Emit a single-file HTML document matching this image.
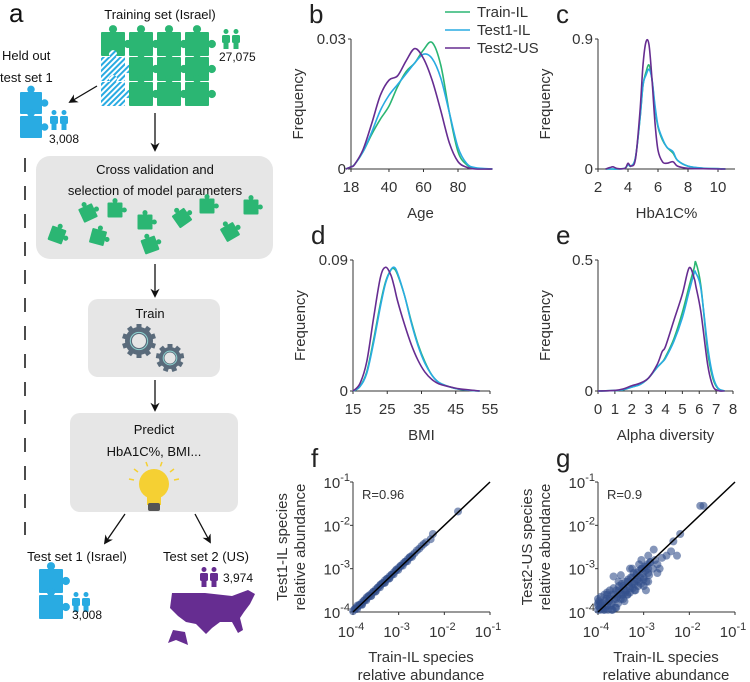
<!DOCTYPE html>
<html><head><meta charset="utf-8">
<style>
html,body{margin:0;padding:0;background:#fff;}
svg{display:block;font-family:"Liberation Sans","DejaVu Sans",sans-serif;}
</style></head>
<body>
<svg id="fig" width="750" height="682" viewBox="0 0 750 682" xmlns="http://www.w3.org/2000/svg">
<defs>
<pattern id="hatch" width="4" height="4" patternUnits="userSpaceOnUse" patternTransform="rotate(45)">
<rect width="4" height="4" fill="#fff"/><rect width="2" height="4" fill="#29abe2"/></pattern>
<marker id="arr" viewBox="0 0 10 10" refX="8" refY="5" markerWidth="7" markerHeight="7" orient="auto"><path d="M0,0 L10,5 L0,10 L3,5 z" fill="#111"/></marker>
</defs>
<g id="panelA"></g>
<g id="charts"></g>
</svg>
<script>
// ---------- Data ----------
const ageX=[15,18,20,25,30,35,40,45,50,55,60,65,70,75,80,85,90,100];
const ageTrain=[0,0.0005,0.001,0.004,0.008,0.0115,0.0145,0.019,0.0225,0.0245,0.0275,0.0292,0.024,0.013,0.004,0.001,0.0002,0];
const ageTest1=[0,0.0005,0.001,0.004,0.0085,0.0135,0.017,0.0195,0.022,0.0245,0.0265,0.0255,0.021,0.013,0.005,0.0013,0.0003,0];
const ageTest2=[0,0.0005,0.001,0.0045,0.0105,0.017,0.0205,0.0215,0.025,0.0278,0.0255,0.0205,0.0135,0.006,0.0017,0.0004,0,0];

const hbX=[2.5,2.8,3.0,3.3,3.8,4.0,4.2,4.5,4.8,5.0,5.2,5.4,5.6,5.8,6.0,6.3,6.6,7.0,7.3,8.0,9.0,10.0,10.5];
const hbTrain=[0,0,0,0,0.005,0.03,0.02,0.08,0.35,0.58,0.67,0.72,0.62,0.42,0.29,0.2,0.15,0.11,0.06,0.02,0.005,0.002,0];
const hbTest1=[0,0,0,0,0.005,0.03,0.02,0.08,0.35,0.58,0.65,0.69,0.62,0.44,0.3,0.21,0.15,0.12,0.06,0.02,0.006,0.002,0];
const hbTest2=[0,0.01,0.015,0.003,0.005,0.04,0.02,0.07,0.4,0.72,0.88,0.86,0.62,0.32,0.13,0.05,0.04,0.05,0.02,0.005,0.002,0,0];

const bmiX=[15,17,19,21,23,24.5,26,27,28,30,32,34,36,38,40,43,46,50,52];
const bmiTrain=[0,0.003,0.013,0.035,0.06,0.075,0.083,0.084,0.08,0.066,0.048,0.032,0.02,0.011,0.006,0.003,0.0012,0.0003,0];
const bmiTest1=[0,0.003,0.012,0.033,0.058,0.074,0.083,0.085,0.081,0.066,0.047,0.031,0.019,0.011,0.006,0.003,0.0012,0.0003,0];
const bmiTest2=[0,0.005,0.02,0.05,0.078,0.085,0.08,0.072,0.062,0.046,0.032,0.021,0.013,0.008,0.005,0.003,0.0015,0.0005,0];

const alphaX=[0,1,1.5,2,2.5,3,3.5,3.8,4,4.5,5,5.4,5.7,5.8,6.1,6.5,6.8,7.1,7.5];
const alphaTrain=[0,0.002,0.005,0.015,0.025,0.05,0.09,0.11,0.13,0.2,0.3,0.4,0.47,0.49,0.4,0.15,0.05,0.01,0];
const alphaTest1=[0,0.002,0.005,0.015,0.025,0.05,0.09,0.11,0.125,0.19,0.28,0.38,0.45,0.45,0.39,0.17,0.06,0.012,0];
const alphaTest2=[0,0.002,0.008,0.02,0.03,0.05,0.1,0.15,0.17,0.27,0.37,0.47,0.43,0.4,0.3,0.1,0.02,0.002,0];

const seriesNames=["Train-IL","Test1-IL","Test2-US"];
const seriesColors=["#2bb673","#29abe2","#662d91"];

// scatter f (log10 values)
const fX=[-4,-3.95,-3.9,-3.85,-3.8,-3.75,-3.7,-3.65,-3.6,-3.55,-3.5,-3.45,-3.4,-3.35,-3.3,-3.25,-3.2,-3.15,-3.1,-3.05,-3.0,-2.95,-2.9,-2.85,-2.8,-2.75,-2.7,-2.65,-2.6,-2.55,-2.5,-2.45,-2.4,-2.3,-2.25,-1.7,-3.9,-3.8,-3.7,-3.6,-3.5,-3.4,-3.3,-3.2,
 -3.97,-3.91,-3.86,-3.81,-3.76,-3.71,-3.66,-3.61,-3.56,-3.51,-3.46,-3.41,-3.36,-3.31,-3.26,-3.21,-3.16,-3.11,-3.06,-3.01,-2.96,-2.91,-2.86,-2.81,-2.76,-2.71];
const fY=[-3.98,-3.92,-3.88,-3.83,-3.78,-3.73,-3.69,-3.62,-3.58,-3.53,-3.48,-3.43,-3.38,-3.33,-3.27,-3.23,-3.18,-3.14,-3.08,-3.02,-2.98,-2.93,-2.88,-2.84,-2.78,-2.73,-2.69,-2.64,-2.58,-2.54,-2.48,-2.43,-2.39,-2.32,-2.2,-1.68,-3.85,-3.83,-3.66,-3.63,-3.52,-3.37,-3.32,-3.22,
 -3.94,-3.93,-3.84,-3.83,-3.74,-3.73,-3.64,-3.63,-3.54,-3.53,-3.44,-3.43,-3.34,-3.33,-3.24,-3.23,-3.14,-3.13,-3.04,-3.03,-2.94,-2.93,-2.84,-2.83,-2.74,-2.73];
// scatter g
const gX=[-4,-3.95,-3.9,-3.85,-3.8,-3.75,-3.7,-3.65,-3.6,-3.55,-3.5,-3.45,-3.4,-3.35,-3.3,-3.25,-3.2,-3.15,-3.1,-3.05,-3.0,-2.95,-2.9,-2.85,-2.8,-2.75,-2.7,-2.6,-2.5,-2.4,-2.35,-2.27,-2.78,-2.2,-1.76,-1.69,-3.66,-3.5,-3.3,-3.1,-2.9,-3.95,-3.85,-3.7,-3.6,-3.45,-3.35,-3.2,-3.0,-2.9,-2.7,-3.8,-3.55,-3.25,-3.05,-2.95,-2.65,
 -4,-4,-4,-3.98,-3.96,-3.94,-3.92,-3.9,-3.88,-3.86,-3.84,-3.82,-3.8,-3.78,-3.76,-3.74,-3.72,-3.7,-3.68,-3.66,-3.64,-3.62,-3.6,-3.58,-3.56,-3.54,-3.52,-3.5,-3.48,-3.46,-3.44,-3.42,-3.4,-3.38,-3.36,-3.34,-3.32,-3.3,-3.28,-3.26,-3.24,-3.22,-3.2,-3.18,-3.16,-3.14,-3.12,-3.1,-3.08,-3.06,-3.04,-3.02,-3.0,-2.98,-2.96,-2.94,-2.92,-2.9,-2.88,-2.86];
const gY=[-3.85,-3.8,-3.9,-3.75,-3.85,-3.7,-3.8,-3.6,-3.7,-3.5,-3.6,-3.4,-3.55,-3.3,-3.45,-3.2,-3.35,-3.1,-3.3,-3.0,-3.2,-2.95,-3.1,-2.85,-3.0,-2.8,-2.9,-2.75,-2.7,-2.6,-2.37,-2.7,-2.56,-2.2,-1.55,-1.55,-3.18,-3.15,-3.0,-2.9,-2.7,-3.95,-3.95,-3.95,-3.9,-3.7,-3.6,-3.5,-3.4,-3.3,-3.1,-3.6,-3.3,-3.0,-2.8,-3.5,-3.0,
 -3.7,-3.8,-3.95,-3.75,-3.9,-3.65,-3.85,-3.8,-3.95,-3.6,-3.9,-3.7,-3.55,-3.95,-3.75,-3.5,-3.85,-3.6,-3.95,-3.45,-3.7,-3.9,-3.5,-3.65,-3.8,-3.4,-3.55,-3.7,-3.35,-3.6,-3.45,-3.75,-3.3,-3.5,-3.6,-3.25,-3.4,-3.55,-3.2,-3.35,-3.45,-3.1,-3.3,-3.5,-3.15,-3.25,-3.4,-3.05,-3.2,-3.35,-3.0,-3.1,-3.25,-2.95,-3.05,-3.3,-2.9,-3.0,-3.15,-2.85];

// ---------- helpers ----------
const NS="http://www.w3.org/2000/svg";
function mk(parent,tag,attrs,text){const e=document.createElementNS(NS,tag);for(const k in attrs)e.setAttribute(k,attrs[k]);if(text!==undefined)e.textContent=text;parent.appendChild(e);return e;}
function smoothPath(pts){let d="M"+pts[0][0]+","+pts[0][1];for(let i=0;i<pts.length-1;i++){const p0=pts[Math.max(0,i-1)],p1=pts[i],p2=pts[i+1],p3=pts[Math.min(pts.length-1,i+2)];const c1x=p1[0]+(p2[0]-p0[0])/6,c1y=p1[1]+(p2[1]-p0[1])/6,c2x=p2[0]-(p3[0]-p1[0])/6,c2y=p2[1]-(p3[1]-p1[1])/6;d+=` C${c1x},${c1y} ${c2x},${c2y} ${p2[0]},${p2[1]}`;}return d;}
const charts=document.getElementById('charts');
const AX="#333";

function densityPanel(o){
  const g=mk(charts,'g',{});
  
  
  const sx=v=>o.x0+(v-o.xmin)/(o.xmax-o.xmin)*(o.x1-o.x0);
  const sy=v=>o.yb-(v/o.ymax)*(o.yb-o.yt);
  const yax=mk(g,'line',{x1:o.x0,y1:o.yt,x2:o.x0,y2:o.yb,stroke:AX,'stroke-width':1});
  
  const xax=mk(g,'line',{x1:o.x0,y1:o.yb,x2:o.xend,y2:o.yb,stroke:AX,'stroke-width':1});
  
  o.xticks.forEach(t=>{const x=sx(t);mk(g,'line',{x1:x,y1:o.yb,x2:x,y2:o.yb+3,stroke:AX});
    const tl=mk(g,'text',{x:x,y:o.yb+23,'font-size':15,'text-anchor':'middle',fill:AX},String(t));
    });
  o.yticks.forEach((t,i)=>{const y=sy(t);mk(g,'line',{x1:o.x0-3,y1:y,x2:o.x0,y2:y,stroke:AX});
    const tl=mk(g,'text',{x:o.x0-5,y:y+5,'font-size':15,'text-anchor':'end',fill:AX},o.ytickLabels[i]);
    });
  const yl=mk(g,'text',{x:0,y:0,'font-size':15,'text-anchor':'middle',fill:AX,transform:`translate(${o.x0-48},${(o.yt+o.yb)/2}) rotate(-90)`},'Frequency');
  
  const xl=mk(g,'text',{x:(o.x0+o.xend)/2,y:o.yb+49,'font-size':15,'text-anchor':'middle',fill:AX},o.xlabel);
  
  o.series.forEach((s,i)=>{const pts=o.xs.map((x,j)=>[sx(x),sy(s[j])]);
    const p=mk(g,'path',{d:smoothPath(pts),fill:'none',stroke:seriesColors[i],'stroke-width':1.6});
    });
  const L=mk(g,'text',{x:o.x0-42,y:o.yt-16,'font-size':26,fill:'#222'},o.letter);
  
}
densityPanel({name:'age-density-panel-b',letter:'b',x0:351,x1:458,xmin:18,xmax:80,xend:490,yt:39,yb:169,ymax:0.03,xs:ageX,series:[ageTrain,ageTest1,ageTest2],xticks:[18,40,60,80],yticks:[0,0.03],ytickLabels:['0','0.03'],xlabel:'Age'});
densityPanel({name:'hba1c-density-panel-c',letter:'c',x0:598,x1:718,xmin:2,xmax:10,xend:735,yt:39,yb:169,ymax:0.9,xs:hbX,series:[hbTrain,hbTest1,hbTest2],xticks:[2,4,6,8,10],yticks:[0,0.9],ytickLabels:['0','0.9'],xlabel:'HbA1C%'});
densityPanel({name:'bmi-density-panel-d',letter:'d',x0:353,x1:490,xmin:15,xmax:55,xend:490,yt:260,yb:391,ymax:0.09,xs:bmiX,series:[bmiTrain,bmiTest1,bmiTest2],xticks:[15,25,35,45,55],yticks:[0,0.09],ytickLabels:['0','0.09'],xlabel:'BMI'});
densityPanel({name:'alpha-density-panel-e',letter:'e',x0:598,x1:733,xmin:0,xmax:8,xend:733,yt:260,yb:391,ymax:0.5,xs:alphaX,series:[alphaTrain,alphaTest1,alphaTest2],xticks:[0,1,2,3,4,5,6,7,8],yticks:[0,0.5],ytickLabels:['0','0.5'],xlabel:'Alpha diversity'});

// legend
const lg=mk(charts,'g',{});

seriesNames.forEach((n,i)=>{const y=12+i*18;
  const e=mk(lg,'g',{});
  mk(e,'line',{x1:445,y1:y,x2:470,y2:y,stroke:seriesColors[i],'stroke-width':1.6});
  mk(e,'text',{x:477,y:y+5,'font-size':15,fill:AX},n);});

function scatterPanel(o){
  const g=mk(charts,'g',{});
  
  const sx=v=>o.x0+(v+4)/3*137, sy=v=>612-(v+4)/3*130;
  mk(g,'line',{x1:o.x0,y1:482,x2:o.x0,y2:612,stroke:AX});
  mk(g,'line',{x1:o.x0,y1:612,x2:o.x0+137,y2:612,stroke:AX});
  [-4,-3,-2,-1].forEach(t=>{
    const x=sx(t),y=sy(t);
    mk(g,'line',{x1:x,y1:612,x2:x,y2:615,stroke:AX});
    mk(g,'line',{x1:o.x0-3,y1:y,x2:o.x0,y2:y,stroke:AX});
    const xt=mk(g,'text',{x:x-2,y:637,'font-size':15,'text-anchor':'middle',fill:AX});
    
    mk(xt,'tspan',{},'10');mk(xt,'tspan',{dy:-7,'font-size':11},String(t));
    const yt=mk(g,'text',{x:o.x0-3,y:y+6,'font-size':15,'text-anchor':'end',fill:AX});
    
    mk(yt,'tspan',{},'10');mk(yt,'tspan',{dy:-7,'font-size':11},String(t));
  });
  const pts=mk(g,'g',{});
  o.xs.forEach((x,i)=>{const c=mk(pts,'circle',{cx:sx(x),cy:sy(o.ys[i]),r:4,fill:'#34508c','fill-opacity':0.6});
    });
  const dl=mk(g,'line',{x1:sx(-4),y1:sy(-4),x2:sx(-1),y2:sy(-1),stroke:'#000','stroke-width':1.5});
  
  const r=mk(g,'text',{x:o.x0+9,y:499,'font-size':13,fill:AX},o.r);
  
  const yl=mk(g,'text',{'font-size':15,'text-anchor':'middle',fill:AX,transform:`translate(${o.x0-66},547) rotate(-90)`},o.ylab);
  
  const yl2=mk(g,'text',{'font-size':15,'text-anchor':'middle',fill:AX,transform:`translate(${o.x0-48},547) rotate(-90)`},'relative abundance');
  
  const xl=mk(g,'text',{x:o.x0+68,y:662,'font-size':15,'text-anchor':'middle',fill:AX},'Train-IL species');
  
  const xl2=mk(g,'text',{x:o.x0+68,y:680,'font-size':15,'text-anchor':'middle',fill:AX},'relative abundance');
  
  const L=mk(g,'text',{x:o.x0-42,y:467,'font-size':26,fill:'#222'},o.letter);
  
}
scatterPanel({name:'abundance-scatter-panel-f',letter:'f',x0:353,xs:fX,ys:fY,r:'R=0.96',ylab:'Test1-IL species'});
scatterPanel({name:'abundance-scatter-panel-g',letter:'g',x0:598,xs:gX,ys:gY,r:'R=0.9',ylab:'Test2-US species'});

// ---------- Panel a ----------
const A=document.getElementById('panelA');
function piece(parent,cx,cy,s,fill,rot,name){
  const g=mk(parent,'g',{transform:`translate(${cx},${cy}) rotate(${rot||0})`});
  
  const h=s/2,k=s*0.17;
  mk(g,'rect',{x:-h,y:-h,width:s,height:s,fill:fill,rx:1});
  mk(g,'circle',{cx:h+k*0.7,cy:0,r:k,fill:fill});
  mk(g,'circle',{cx:0,cy:-h-k*0.7,r:k,fill:fill});
  return g;
}
function person(parent,x,y,color,name){
  const g=mk(parent,'g',{});
  [0,10].forEach(dx=>{mk(g,'circle',{cx:x+dx+4,cy:y+2.5,r:2.5,fill:color});
    mk(g,'rect',{x:x+dx,y:y+6,width:8,height:8,rx:1.5,fill:color});
    mk(g,'rect',{x:x+dx+1.5,y:y+12,width:5,height:8,fill:color});});
}
function txt(parent,x,y,s,size,name,anchor,color){const t=mk(parent,'text',{x:x,y:y,'font-size':size,'text-anchor':anchor||'start',fill:color||'#111'},s);return t;}

txt(A,9,22,'a',26,'panel-label-a');
txt(A,160,19,'Training set (Israel)',13,'training-set-title','middle');
const grid=mk(A,'g',{});
for(let r=0;r<3;r++)for(let c=0;c<4;c++){
  const hatched=(c===0&&r>0);
  piece(grid,113+c*28,44+r*25,24,hatched?'url(#hatch)':'#2bb673',0,hatched?'held-out-hatched-piece':'training-piece');
}
person(A,222,29,'#2bb673','training-people-icon');
txt(A,219,61,'27,075',12,'training-count');
txt(A,2,60,'Held out',13,'held-out-title');
txt(A,0,82,'test set 1',13,'held-out-title-line2');
piece(A,31,103,22,'#29abe2',0,'held-out-piece');piece(A,31,127,22,'#29abe2',0,'held-out-piece');
person(A,50,110,'#29abe2','held-out-people-icon');
txt(A,49,143,'3,008',12,'held-out-count');
mk(A,'line',{x1:97,y1:86,x2:70,y2:102,stroke:'#111','stroke-width':1.3,'marker-end':'url(#arr)'});
mk(A,'line',{x1:155,y1:113,x2:155,y2:150,stroke:'#111','stroke-width':1.3,'marker-end':'url(#arr)'});
const dash=mk(A,'line',{x1:25,y1:158,x2:25,y2:535,stroke:'#111','stroke-width':1.5,'stroke-dasharray':'14,14'});

const cv=mk(A,'rect',{x:36,y:156,width:237,height:103,rx:14,fill:'#e6e6e6'});

txt(A,155,174,'Cross validation and',13,'cv-title','middle');
txt(A,155,195,'selection of model parameters',13,'cv-title-line2','middle');
[[57,235,20],[88,213,-25],[98,237,15],[115,210,0],[145,222,0],[150,245,-20],[182,218,-35],[207,206,0],[230,232,-30],[251,207,0]].forEach(p=>piece(A,p[0],p[1],15,'#2bb673',p[2],'cv-puzzle-piece'));
mk(A,'line',{x1:155,y1:264,x2:155,y2:296,stroke:'#111','stroke-width':1.3,'marker-end':'url(#arr)'});
const tb=mk(A,'rect',{x:88,y:299,width:132,height:78,rx:10,fill:'#e6e6e6'});

txt(A,150,318,'Train',13,'train-title','middle');
function gear(cx,cy,r,n){const g=mk(A,'g',{});
  for(let i=0;i<n;i++){mk(g,'rect',{x:cx-2.5,y:cy-r-3,width:5,height:6,fill:'#5a6b7b',transform:`rotate(${i*360/n} ${cx} ${cy})`});}
  mk(g,'circle',{cx:cx,cy:cy,r:r,fill:'#5a6b7b'});mk(g,'circle',{cx:cx,cy:cy,r:r*0.62,fill:'none',stroke:'#8fd3d0','stroke-width':1});
  mk(g,'circle',{cx:cx,cy:cy,r:r*0.5,fill:'#e6e6e6'});}
gear(139,341,14,10);gear(170,358,11,9);
mk(A,'line',{x1:155,y1:380,x2:155,y2:410,stroke:'#111','stroke-width':1.3,'marker-end':'url(#arr)'});
const pb=mk(A,'rect',{x:70,y:413,width:168,height:99,rx:10,fill:'#e6e6e6'});

txt(A,154,434,'Predict',13,'predict-title','middle');
txt(A,154,456,'HbA1C%, BMI...',13,'predict-subtitle','middle');
const bulb=mk(A,'g',{});
mk(bulb,'circle',{cx:154,cy:484,r:15,fill:'#f5d033'});
mk(bulb,'rect',{x:147,y:495,width:14,height:10,fill:'#f5d033'});
mk(bulb,'rect',{x:148,y:503,width:12,height:8,fill:'#555',rx:2});
[[-25,-5],[-20,-15],[-8,-22],[8,-22],[20,-15],[25,-5]].forEach(p=>mk(bulb,'line',{x1:154+p[0]*0.8,y1:484+p[1]*0.8,x2:154+p[0],y2:484+p[1],stroke:'#f5d033','stroke-width':1.5}));
mk(A,'line',{x1:125,y1:514,x2:105,y2:543,stroke:'#111','stroke-width':1.3,'marker-end':'url(#arr)'});
mk(A,'line',{x1:195,y1:514,x2:210,y2:542,stroke:'#111','stroke-width':1.3,'marker-end':'url(#arr)'});
txt(A,77,561,'Test set 1 (Israel)',13,'test-set-1-title','middle');
txt(A,206,561,'Test set 2 (US)',13,'test-set-2-title','middle');
piece(A,51,581,24,'#29abe2',0,'test1-piece');piece(A,51,607,24,'#29abe2',0,'test1-piece');
person(A,72,592,'#29abe2','test1-people-icon');
txt(A,72,619,'3,008',12,'test1-count');
person(A,200,567,'#662d91','test2-people-icon');
txt(A,223,582,'3,974',12,'test2-count');
const us=mk(A,'path',{d:'M172,593 L205,593 L232,596 L248,590 L255,594 L250,604 L244,612 L240,618 L243,630 L238,633 L232,622 L220,622 L212,628 L206,634 L196,624 L186,622 L178,616 L170,608 Z',fill:'#662d91'});

mk(A,'path',{d:'M173,630 L185,632 L188,645 L176,640 L168,643 Z',fill:'#662d91'});
</script>
</body></html>
